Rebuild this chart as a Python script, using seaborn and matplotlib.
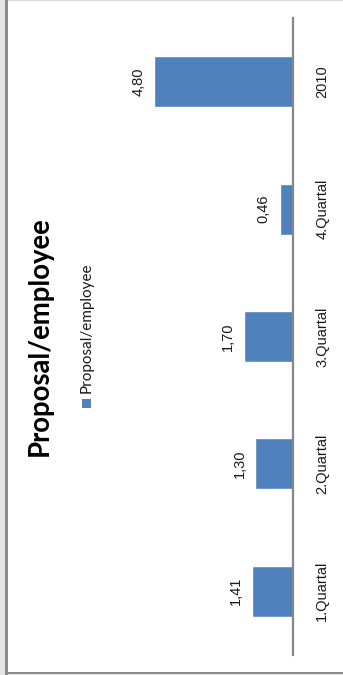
import matplotlib
matplotlib.use("Agg")
import matplotlib.pyplot as plt
import seaborn as sns
import pandas as pd
from matplotlib.patches import Rectangle

categories = ["2010", "4.Quartal", "3.Quartal", "2.Quartal", "1.Quartal"]
values = [4.80, 0.46, 1.70, 1.30, 1.41]
value_labels = ["4,80", "0,46", "1,70", "1,30", "1,41"]
series_name = "Proposal/employee"
title = "Proposal/employee"

sns.set_theme(style="white")
plt.rcParams["font.family"] = ["Lato", "DejaVu Sans"]

W, H = 343, 675
fig = plt.figure(figsize=(W / 100, H / 100), dpi=100)
fig.patch.set_facecolor("white")

def fx(px):
    return px / W

def fy(py):
    return 1 - py / H

# axes: right edge (value 0) at x=293, y from 18 to 655
left_px, right_px = 100, 293
top_px, bot_px = 18, 655
ax = fig.add_axes([fx(left_px), fy(bot_px), fx(right_px - left_px), fy(top_px) - fy(bot_px)])

df = pd.DataFrame({"cat": categories, "val": values})
sns.barplot(data=df, y="cat", x="val", orient="h", color="#4F81BD",
            width=0.4, saturation=1, ax=ax, order=categories)
ax.set_xlim((right_px - left_px) / 28.9, 0)
ax.set_ylim(4.5, -0.5)
ax.set_xlabel("")
ax.set_ylabel("")
ax.set_xticks([])
for s in ["left", "top", "bottom"]:
    ax.spines[s].set_visible(False)
ax.spines["right"].set_color("#868686")
ax.spines["right"].set_linewidth(1.6)
ax.yaxis.tick_right()
ax.tick_params(axis="y", length=0, pad=16, labelsize=10.5, labelcolor="#1a1a1a")
for lab in ax.get_yticklabels():
    lab.set_rotation(90)
    lab.set_va("center")
    lab.set_family(["Liberation Sans", "DejaVu Sans"])

texts = ax.bar_label(ax.containers[0], labels=value_labels, padding=6.5, rotation=90,
                     fontsize=10.5, color="#1a1a1a", label_type="edge")
for t in texts:
    t.set_family(["Liberation Sans", "DejaVu Sans"])
ax.patch.set_alpha(0)

# title
fig.text(fx(40), fy(336), title, rotation=90, ha="center", va="center",
         fontsize=19.8, fontweight="bold", color="black")

# legend (rotated)
fig.patches.append(Rectangle((fx(82), fy(408)), fx(9), fy(399) - fy(408),
                             transform=fig.transFigure, facecolor="#4F81BD",
                             edgecolor="none"))
fig.text(fx(87), fy(393), series_name, rotation=90, ha="center", va="bottom",
         fontsize=11, color="#1a1a1a")

# frame
fig.patches.append(Rectangle((0, 0), fx(4.5), 1, transform=fig.transFigure,
                             facecolor="#e6e6e6", edgecolor="none"))
fig.patches.append(Rectangle((fx(4.5), 0), fx(3), 1, transform=fig.transFigure,
                             facecolor="#8c8c8c", edgecolor="none"))
fig.patches.append(Rectangle((fx(7.5), fy(1.2)), 1, fy(0) - fy(1.2), transform=fig.transFigure,
                             facecolor="#d9d9d9", edgecolor="none"))
fig.patches.append(Rectangle((fx(7.5), fy(674)), 1, fy(671.8) - fy(674), transform=fig.transFigure,
                             facecolor="#8c8c8c", edgecolor="none"))
fig.patches.append(Rectangle((fx(7.5), 0), 1, fy(674) - fy(675), transform=fig.transFigure,
                             facecolor="#e6e6e6", edgecolor="none"))

fig.savefig("out.png", dpi=100)
